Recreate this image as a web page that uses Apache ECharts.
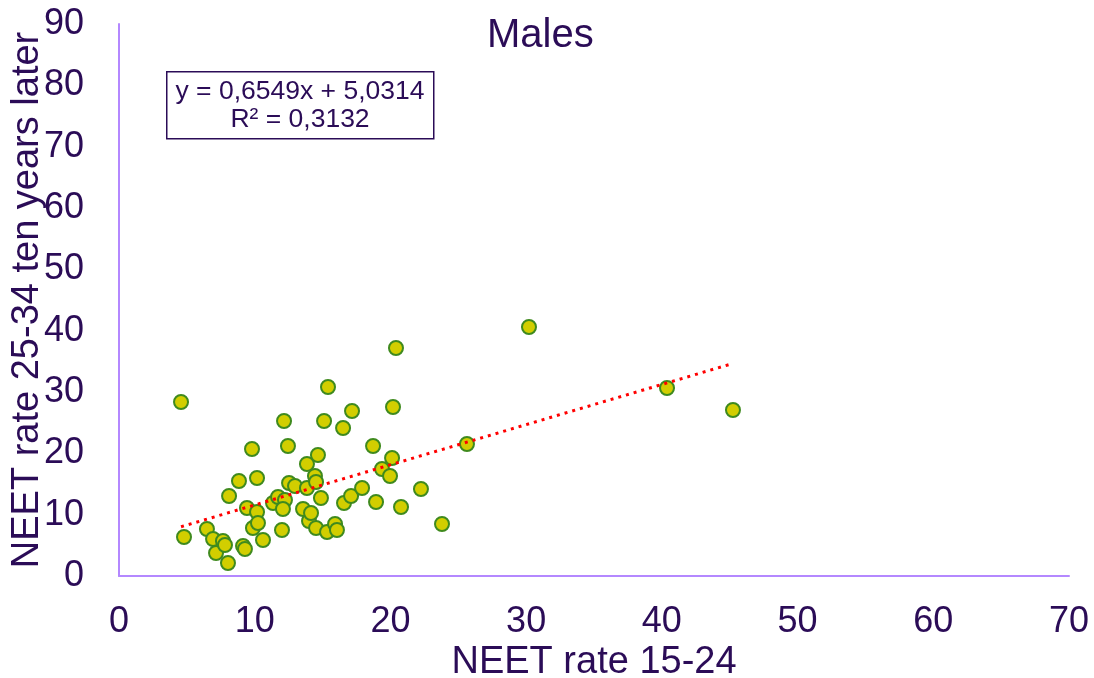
<!DOCTYPE html>
<html>
<head>
<meta charset="utf-8">
<style>html,body{margin:0;padding:0;background:#fff;}#c{width:1094px;height:678px;}</style>
<script src="https://cdn.jsdelivr.net/npm/echarts@6/dist/echarts.min.js"></script>
</head>
<body>
<div id="c"></div>
<script>
// NEET rate 15-24 (x) and NEET rate 25-34 ten years later (y), Males
const xValues = [4.57,4.79,6.48,6.93,7.15,7.66,7.81,8.03,8.11,8.84,9.14,9.28,9.43,9.80,9.87,10.17,10.17,10.24,10.61,11.35,11.72,12.23,12.08,12.01,12.16,12.45,12.53,12.97,13.56,13.85,13.85,14.00,14.15,14.44,14.52,14.52,14.66,14.88,15.11,15.33,15.40,15.92,16.06,16.51,16.58,17.10,17.17,17.91,18.72,18.94,19.38,19.97,20.12,20.19,20.41,20.78,22.25,23.80,25.64,30.21,40.38,45.24];
const yValues = [28.37,6.36,7.66,6.03,3.75,5.71,5.05,2.12,13.04,15.49,4.89,4.40,11.09,20.71,7.83,15.98,10.43,8.64,5.87,11.90,12.88,12.39,10.92,7.50,25.27,21.20,15.16,14.67,10.92,18.26,14.35,8.97,10.27,16.30,15.33,7.83,19.73,12.72,25.27,7.17,30.82,8.48,7.50,24.13,11.90,13.04,26.90,14.35,21.20,12.07,17.45,16.30,19.24,27.55,37.17,11.25,14.18,8.48,21.52,40.60,30.65,27.07];
const slope = 0.6549;
const intercept = 5.0314;
const rSquared = '0,3132';
const xTicks = [0,10,20,30,40,50,60,70];
const yTicks = [0,10,20,30,40,50,60,70,80,90];

const points = xValues.map((x, i) => [x, yValues[i]]);
const xMin = Math.min(...xValues), xMax = Math.max(...xValues);
const trend = [[xMin, slope * xMin + intercept], [xMax, slope * xMax + intercept]];

const textColor = '#2B0C57';
const axisColor = '#B488FF';
const font = 'Liberation Sans, Arial, sans-serif';

const chart = echarts.init(document.getElementById('c'), null, {renderer: 'canvas'});
chart.setOption({
  animation: false,
  backgroundColor: '#ffffff',
  title: {
    text: 'Males', left: 482, top: 11,
    textStyle: {color: textColor, fontFamily: font, fontSize: 40, fontWeight: 'normal'}
  },
  grid: {left: 119, right: 25, top: 24, bottom: 102, containLabel: false, outerBoundsMode: 'none'},
  xAxis: {
    type: 'value', min: xTicks[0], max: xTicks[xTicks.length - 1], interval: 10,
    name: 'NEET rate 15-24', nameLocation: 'middle', nameGap: 68, nameMoveOverlap: false,
    nameTextStyle: {color: textColor, fontFamily: font, fontSize: 38},
    axisLine: {show: true, lineStyle: {color: axisColor, width: 2}},
    axisTick: {show: false}, splitLine: {show: false},
    axisLabel: {color: textColor, fontFamily: font, fontSize: 36, margin: 28}
  },
  yAxis: {
    type: 'value', min: yTicks[0], max: yTicks[yTicks.length - 1], interval: 10,
    name: 'NEET rate 25-34 ten years later', nameLocation: 'middle', nameGap: 72, nameMoveOverlap: false,
    nameTextStyle: {color: textColor, fontFamily: font, fontSize: 38},
    axisLine: {show: true, lineStyle: {color: axisColor, width: 2}},
    axisTick: {show: false}, splitLine: {show: false},
    axisLabel: {color: textColor, fontFamily: font, fontSize: 36, margin: 35}
  },
  graphic: [
    {type: 'rect', left: 166, top: 71, shape: {width: 267, height: 67},
     style: {fill: '#fff', stroke: textColor, lineWidth: 1.5}, z: 10},
    {type: 'text', x: 300, y: 92, z: 11,
     style: {text: 'y = ' + String(slope).replace('.', ',') + 'x + ' + String(intercept).replace('.', ','),
             fill: textColor, font: '26.5px ' + font, textAlign: 'center', textVerticalAlign: 'middle'}},
    {type: 'text', x: 300, y: 120, z: 11,
     style: {text: 'R² = ' + rSquared, fill: textColor, font: '26.5px ' + font, textAlign: 'center', textVerticalAlign: 'middle'}}
  ],
  series: [
    {
      type: 'scatter', data: points, symbol: 'circle', symbolSize: 14, z: 3,
      itemStyle: {color: '#D2CE00', borderColor: '#3F8A1E', borderWidth: 2, opacity: 1}
    },
    {
      type: 'line', data: trend, symbol: 'none', z: 4,
      lineStyle: {color: '#FF0000', width: 3, type: [3, 5]}
    }
  ]
});
</script>
</body>
</html>
